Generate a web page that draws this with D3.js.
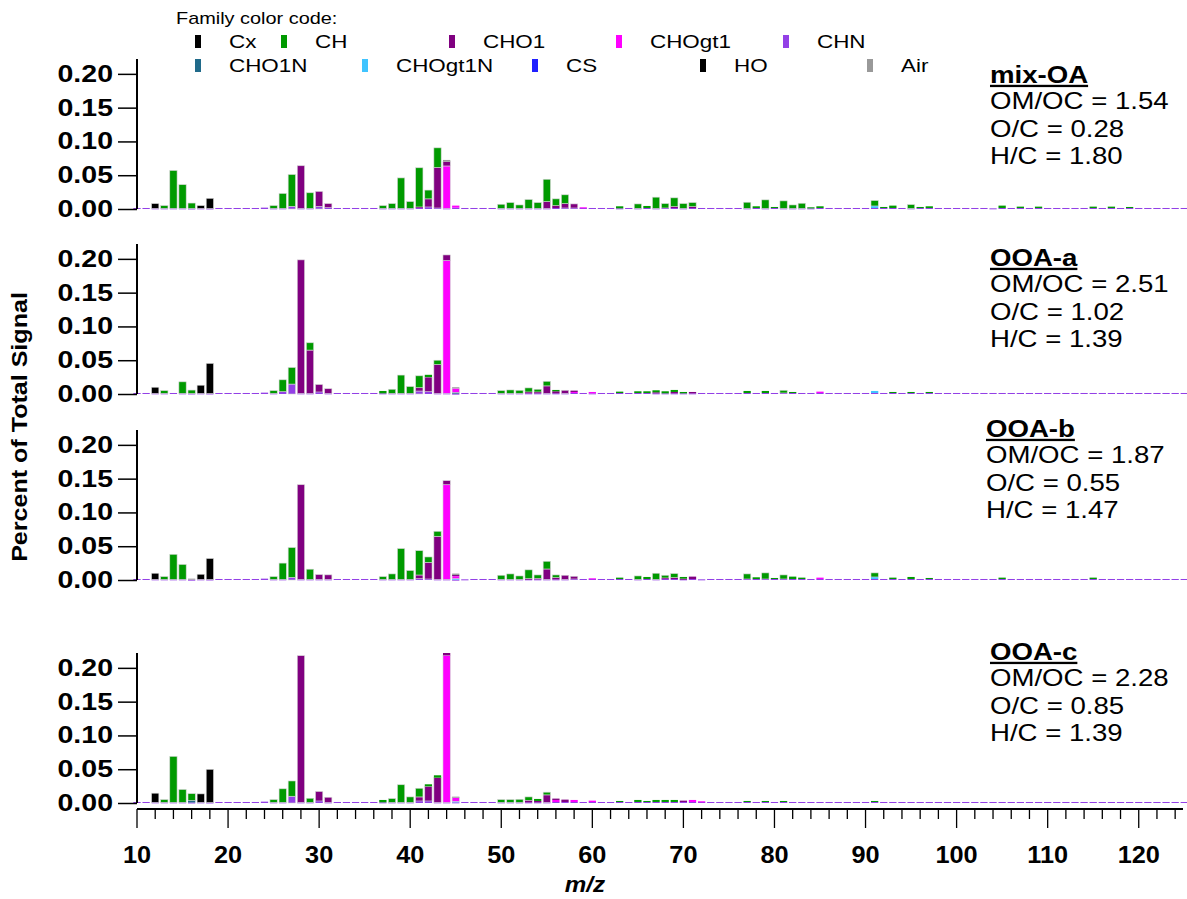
<!DOCTYPE html>
<html>
<head>
<meta charset="utf-8">
<script src="https://cdn.jsdelivr.net/npm/d3@7"></script>
<style>
  html, body { margin: 0; padding: 0; background: #fff; }
  svg { display: block; font-family: "Liberation Sans", Arial, sans-serif; }
</style>
</head>
<body>
<svg id="chart" width="1187" height="899"></svg>
<script>
// ---------- data ----------
const mzValues = d3.range(10, 126);

const familyNames  = ["Cx", "CH", "CHO1", "CHOgt1", "CHN", "CHO1N", "CHOgt1N", "CS", "HO", "Air"];
const familyColors = ["#000000", "#009a00", "#800080", "#ff00ff", "#9340e6", "#206a8a", "#40c4ff", "#2020ff", "#000000", "#999999"];
// order in which family segments are stacked, bottom to top
const stackOrder = ["CHN", "CHO1N", "CHOgt1N", "CHOgt1", "CHO1", "CH", "Cx", "HO", "CS", "Air"];

const factorNames = ["mix-OA", "OOA-a", "OOA-b", "OOA-c"];
const omocRatios = ["1.54", "2.51", "1.87", "2.28"];
const ocRatios   = ["0.28", "1.02", "0.55", "0.85"];
const hcRatios   = ["1.80", "1.39", "1.47", "1.39"];

const yTickValues = [0, 0.05, 0.10, 0.15, 0.20];
const xMajorTicks = [10, 20, 30, 40, 50, 60, 70, 80, 90, 100, 110, 120];

// mix-OA: [m/z, fraction of signal]
const mixOA_Cx = [[12, 0.007]];
const mixOA_HO = [[17, 0.004], [18, 0.015]];
const mixOA_CH = [[13, 0.004], [14, 0.056], [15, 0.035], [16, 0.008], [25, 0.004], [26, 0.022], [27, 0.047], [29, 0.023],
  [37, 0.004], [38, 0.007], [39, 0.045], [40, 0.010], [41, 0.058], [42, 0.013], [43, 0.029], [50, 0.006], [51, 0.0085],
  [52, 0.005], [53, 0.013], [54, 0.0085], [55, 0.033], [56, 0.010], [57, 0.013], [63, 0.003], [65, 0.0065], [66, 0.003],
  [67, 0.0165], [68, 0.0065], [69, 0.013], [70, 0.007], [71, 0.006], [77, 0.009], [78, 0.0025], [79, 0.0125], [80, 0.0015],
  [81, 0.011], [82, 0.005], [83, 0.0075], [84, 0.0015], [85, 0.0025], [91, 0.008], [92, 0.0015], [93, 0.0035], [95, 0.0055],
  [96, 0.0015], [97, 0.0025], [105, 0.0035], [107, 0.002], [109, 0.002], [115, 0.002], [117, 0.002], [119, 0.0015]];
const mixOA_CHO1 = [[28, 0.063], [30, 0.022], [31, 0.006], [41, 0.001], [42, 0.012], [43, 0.060], [44, 0.0064], [55, 0.010],
  [56, 0.0035], [57, 0.0065], [58, 0.006], [69, 0.002], [71, 0.002]];
const mixOA_CHOgt1 = [[44, 0.0627], [45, 0.003], [59, 0.001]];
const mixOA_CHOgt1N = [[91, 0.003]];
const mixOA_Air = [[44, 0.0025]];
const mixOA_CHN = [
  0.0015, 0.0015, 0.001, 0.001, 0.001, 0.001, 0.0008, 0.001, 0.0008, 0.0015,
  0.0015, 0.0015, 0.0015, 0.0015, 0.002, 0.001, 0.001, 0.004, 0.001, 0.001,
  0.004, 0.002, 0.0015, 0.0015, 0.0015, 0.0015, 0.0015, 0.001, 0.001, 0.001,
  0.001, 0.002, 0.003, 0.0015, 0.001, 0.002, 0.0015, 0.0015, 0.0015, 0.0015,
  0.001, 0.001, 0.001, 0.001, 0.001, 0.001, 0.0015, 0.0015, 0.0015, 0.0015,
  0.0015, 0.0015, 0.0015, 0.001, 0.0015, 0.001, 0.0015, 0.001, 0.0015, 0.0015,
  0.001, 0.0015, 0.0015, 0.0015, 0.0015, 0.0015, 0.0015, 0.001, 0.0015, 0.001,
  0.0015, 0.001, 0.001, 0.001, 0.001, 0.0015, 0.0015, 0.0015, 0.0015, 0.0015,
  0.0015, 0.0015, 0.0015, 0.0015, 0.0015, 0.001, 0.0015, 0.0015, 0.0015, 0.0015,
  0.0015, 0.0015, 0.0015, 0.0015, 0.001, 0.0015, 0.0015, 0.0015, 0.0015, 0.0015,
  0.0015, 0.0015, 0.0015, 0.0015, 0.0015, 0.0015, 0.0015, 0.0015, 0.0015, 0.0015,
  0.0015, 0.0015, 0.0015, 0.0015, 0.0015, 0.0015];

// OOA-a
const ooaA_Cx = [[12, 0.009]];
const ooaA_HO = [[17, 0.012], [18, 0.0445]];
const ooaA_CH = [[13, 0.004], [15, 0.017], [16, 0.005], [25, 0.004], [26, 0.0176], [27, 0.0245], [29, 0.0108], [37, 0.0035],
  [38, 0.006], [39, 0.027], [40, 0.010], [41, 0.0176], [42, 0.0034], [43, 0.0064], [50, 0.004], [51, 0.005], [52, 0.0045],
  [53, 0.006], [54, 0.004], [55, 0.0068], [56, 0.002], [63, 0.002], [65, 0.0025], [66, 0.0025], [67, 0.003], [68, 0.003],
  [69, 0.003], [70, 0.002], [77, 0.003], [79, 0.003], [81, 0.004], [82, 0.0015], [93, 0.0015], [95, 0.0015], [97, 0.0015]];
const ooaA_CHO1 = [[28, 0.1975], [29, 0.064], [30, 0.011], [31, 0.0068], [41, 0.0049], [42, 0.0216], [43, 0.0426], [44, 0.0083],
  [53, 0.002], [54, 0.002], [55, 0.011], [56, 0.003], [57, 0.0045], [58, 0.002], [67, 0.0015], [69, 0.002], [71, 0.002]];
const ooaA_CHOgt1 = [[44, 0.1965], [45, 0.006], [58, 0.0015], [60, 0.002], [85, 0.002]];
const ooaA_CHO1N = [[45, 0.002]];
const ooaA_CHOgt1N = [[91, 0.003]];
const ooaA_Air = [[45, 0.0015]];
const ooaA_CHN = [
  0.0015, 0.0015, 0.001, 0.001, 0.0015, 0.001, 0.0008, 0.001, 0.0008, 0.0015,
  0.0015, 0.0015, 0.0015, 0.0015, 0.002, 0.001, 0.0034, 0.0147, 0.001, 0.001,
  0.003, 0.001, 0.0015, 0.0015, 0.0015, 0.0015, 0.0015, 0.001, 0.001, 0.001,
  0.001, 0.0044, 0.0034, 0.001, 0.001, 0.0005, 0.0015, 0.0015, 0.0015, 0.0015,
  0.001, 0.001, 0.001, 0.001, 0.001, 0.001, 0.001, 0.001, 0.0015, 0.0015,
  0.001, 0.0015, 0.0015, 0.0015, 0.0015, 0.0015, 0.0015, 0.001, 0.001, 0.001,
  0.001, 0.001, 0.0015, 0.0015, 0.0015, 0.0015, 0.0015, 0.0015, 0.0015, 0.0015,
  0.0015, 0.0015, 0.0015, 0.0015, 0.0015, 0.0015, 0.0015, 0.0015, 0.0015, 0.0015,
  0.0015, 0.0015, 0.0015, 0.0015, 0.0015, 0.0015, 0.0015, 0.0015, 0.0015, 0.0015,
  0.0015, 0.0015, 0.0015, 0.0015, 0.0015, 0.0015, 0.0015, 0.0015, 0.0015, 0.0015,
  0.0015, 0.0015, 0.0015, 0.0015, 0.0015, 0.0015, 0.0015, 0.0015, 0.0015, 0.0015,
  0.0015, 0.0015, 0.0015, 0.0015, 0.0015, 0.0015];

// OOA-b
const ooaB_Cx = [[12, 0.009]];
const ooaB_HO = [[17, 0.0075], [18, 0.031]];
const ooaB_CH = [[13, 0.004], [14, 0.037], [15, 0.022], [25, 0.004], [26, 0.024], [27, 0.044], [29, 0.015], [37, 0.004],
  [38, 0.008], [39, 0.0455], [40, 0.013], [41, 0.036], [42, 0.0079], [43, 0.0074], [50, 0.006], [51, 0.008], [52, 0.005],
  [53, 0.013], [54, 0.005], [55, 0.0114], [56, 0.004], [63, 0.002], [65, 0.005], [66, 0.003], [67, 0.009], [68, 0.004],
  [69, 0.006], [70, 0.0025], [77, 0.0075], [78, 0.0025], [79, 0.009], [80, 0.0015], [81, 0.006], [82, 0.0035], [83, 0.002],
  [91, 0.006], [93, 0.002], [95, 0.003], [97, 0.0015], [105, 0.002], [115, 0.002]];
const ooaB_CHO1 = [[28, 0.14], [30, 0.007], [31, 0.0066], [41, 0.0054], [42, 0.0247], [43, 0.0637], [44, 0.006], [45, 0.0015],
  [53, 0.001], [54, 0.0015], [55, 0.0153], [56, 0.0025], [57, 0.006], [58, 0.004], [68, 0.0015], [69, 0.002], [70, 0.001], [71, 0.0035]];
const ooaB_CHOgt1 = [[44, 0.14], [45, 0.004], [60, 0.001], [85, 0.002]];
const ooaB_CHOgt1N = [[45, 0.0015], [91, 0.003]];
const ooaB_Air = [[45, 0.002], [16, 0.0015]];
const ooaB_CHN = [
  0.0015, 0.0015, 0.001, 0.001, 0.001, 0.001, 0.0005, 0.001, 0.0008, 0.0015,
  0.0015, 0.0015, 0.0015, 0.0015, 0.002, 0.001, 0.001, 0.004, 0.001, 0.001,
  0.001, 0.001, 0.0015, 0.0015, 0.0015, 0.0015, 0.0015, 0.001, 0.001, 0.001,
  0.001, 0.002, 0.0015, 0.001, 0.001, 0.0005, 0.001, 0.0015, 0.0015, 0.0015,
  0.001, 0.001, 0.001, 0.001, 0.001, 0.001, 0.001, 0.001, 0.0015, 0.0015,
  0.0015, 0.0015, 0.0015, 0.0015, 0.0015, 0.001, 0.0015, 0.001, 0.0015, 0.0015,
  0.001, 0.0015, 0.001, 0.0015, 0.0015, 0.0015, 0.0015, 0.0015, 0.0015, 0.0015,
  0.0015, 0.0015, 0.0015, 0.0015, 0.0015, 0.0015, 0.0015, 0.0015, 0.0015, 0.0015,
  0.0015, 0.0015, 0.0015, 0.0015, 0.0015, 0.0015, 0.0015, 0.0015, 0.0015, 0.0015,
  0.0015, 0.0015, 0.0015, 0.0015, 0.0015, 0.0015, 0.0015, 0.0015, 0.0015, 0.0015,
  0.0015, 0.0015, 0.0015, 0.0015, 0.0015, 0.0015, 0.0015, 0.0015, 0.0015, 0.0015,
  0.0015, 0.0015, 0.0015, 0.0015, 0.0015, 0.0015];

// OOA-c
const ooaC_Cx = [[12, 0.0135]];
const ooaC_HO = [[17, 0.0125], [18, 0.049]];
const ooaC_CH = [[13, 0.004], [14, 0.068], [15, 0.019], [16, 0.010], [25, 0.004], [26, 0.020], [27, 0.0226], [29, 0.006],
  [37, 0.0035], [38, 0.0055], [39, 0.026], [40, 0.008], [41, 0.0128], [42, 0.003], [43, 0.0035], [50, 0.004], [51, 0.004],
  [52, 0.0045], [53, 0.005], [54, 0.003], [55, 0.004], [63, 0.0015], [65, 0.003], [66, 0.0015], [67, 0.003], [68, 0.003],
  [69, 0.003], [77, 0.0015], [79, 0.0015], [81, 0.0015], [91, 0.0015]];
const ooaC_CHO1 = [[28, 0.217], [30, 0.014], [31, 0.0075], [41, 0.006], [42, 0.0217], [43, 0.0365], [44, 0.0035], [53, 0.003],
  [54, 0.002], [55, 0.011], [56, 0.002], [57, 0.0035], [70, 0.002]];
const ooaC_CHOgt1 = [[44, 0.2175], [45, 0.0054], [56, 0.003], [58, 0.003], [60, 0.002], [71, 0.003], [72, 0.001]];
const ooaC_CHO1N = [[16, 0.003]];
const ooaC_CHOgt1N = [[45, 0.0015]];
const ooaC_Air = [[45, 0.0015]];
const ooaC_CHN = [
  0.0015, 0.0015, 0.001, 0.001, 0.001, 0.001, 0.0008, 0.001, 0.0008, 0.0015,
  0.0015, 0.0015, 0.0015, 0.0015, 0.002, 0.001, 0.001, 0.010, 0.001, 0.001,
  0.003, 0.001, 0.0015, 0.0015, 0.0015, 0.0015, 0.0015, 0.001, 0.001, 0.001,
  0.001, 0.003, 0.003, 0.001, 0.001, 0.001, 0.0015, 0.0015, 0.0015, 0.0015,
  0.001, 0.001, 0.001, 0.001, 0.001, 0.001, 0.0015, 0.0015, 0.0015, 0.0015,
  0.0015, 0.0015, 0.0015, 0.0015, 0.0015, 0.0015, 0.0015, 0.0015, 0.0015, 0.0015,
  0.0015, 0.0015, 0.0015, 0.0015, 0.0015, 0.0015, 0.0015, 0.0015, 0.0015, 0.0015,
  0.0015, 0.0015, 0.0015, 0.0015, 0.0015, 0.0015, 0.0015, 0.0015, 0.0015, 0.0015,
  0.0015, 0.0015, 0.0015, 0.0015, 0.0015, 0.0015, 0.0015, 0.0015, 0.0015, 0.0015,
  0.0015, 0.0015, 0.0015, 0.0015, 0.0015, 0.0015, 0.0015, 0.0015, 0.0015, 0.0015,
  0.0015, 0.0015, 0.0015, 0.0015, 0.0015, 0.0015, 0.0015, 0.0015, 0.0015, 0.0015,
  0.0015, 0.0015, 0.0015, 0.0015, 0.0015, 0.0015];

// per-factor family spectra
const factorSpectra = [
  { Cx: mixOA_Cx, HO: mixOA_HO, CH: mixOA_CH, CHO1: mixOA_CHO1, CHOgt1: mixOA_CHOgt1, CHOgt1N: mixOA_CHOgt1N, Air: mixOA_Air, CHN: mixOA_CHN },
  { Cx: ooaA_Cx, HO: ooaA_HO, CH: ooaA_CH, CHO1: ooaA_CHO1, CHOgt1: ooaA_CHOgt1, CHO1N: ooaA_CHO1N, CHOgt1N: ooaA_CHOgt1N, Air: ooaA_Air, CHN: ooaA_CHN },
  { Cx: ooaB_Cx, HO: ooaB_HO, CH: ooaB_CH, CHO1: ooaB_CHO1, CHOgt1: ooaB_CHOgt1, CHOgt1N: ooaB_CHOgt1N, Air: ooaB_Air, CHN: ooaB_CHN },
  { Cx: ooaC_Cx, HO: ooaC_HO, CH: ooaC_CH, CHO1: ooaC_CHO1, CHOgt1: ooaC_CHOgt1, CHO1N: ooaC_CHO1N, CHOgt1N: ooaC_CHOgt1N, Air: ooaC_Air, CHN: ooaC_CHN }
];

// ---------- layout ----------
const svg = d3.select("#chart");
const axisX = 137;
const panelBottoms = [209, 394, 580, 803];
const panelHeight = 150;
const yMax = 0.222;
const xAxisY = 809;
const colorOf = d3.scaleOrdinal(familyNames, familyColors);

const x = d3.scaleLinear().domain([10, 125.3]).range([axisX, 1187]);
const barW = (x(11) - x(10)) * 0.8;

// widen text horizontally around its own x anchor
function widen(sel, s) {
  sel.each(function () {
    const t = d3.select(this);
    const x0 = +t.attr("x") || 0;
    t.attr("transform", `translate(${x0},0) scale(${s},1) translate(${-x0},0)`);
  });
}

// build wide table rows per factor
function buildRows(spec) {
  return mzValues.map((m, i) => {
    const row = { mz: m };
    familyNames.forEach(f => { row[f] = 0; });
    Object.entries(spec).forEach(([fam, vals]) => {
      if (fam === "CHN") row.CHN = vals[i];
      else vals.forEach(([mm, v]) => { if (mm === m) row[fam] += v; });
    });
    return row;
  });
}

const stack = d3.stack().keys(stackOrder);

factorSpectra.forEach((spec, p) => {
  const bottom = panelBottoms[p];
  const y = d3.scaleLinear().domain([0, yMax]).range([bottom, bottom - panelHeight]);
  const g = svg.append("g");
  const series = stack(buildRows(spec));

  g.selectAll("g.fam").data(series).join("g")
    .attr("fill", s => colorOf(s.key))
    .selectAll("rect").data(s => s.filter(d => d[1] - d[0] > 0)).join("rect")
    .attr("x", d => x(d.data.mz) - barW / 2)
    .attr("width", barW)
    .attr("y", d => y(d[1]))
    .attr("height", d => Math.max(1, y(d[0]) - y(d[1])))
    .attr("stroke", d => (y(d[0]) - y(d[1]) > 2.5 ? "#d4d4d4" : "none"))
    .attr("stroke-width", 0.6);

  // y axis
  const yAxis = d3.axisLeft(y).tickValues(yTickValues).tickFormat(d3.format(".2f")).tickSize(19).tickPadding(5);
  const ga = g.append("g").attr("transform", `translate(${axisX},0)`).call(yAxis);
  ga.select(".domain").attr("d", `M0,${y(yMax)}V${bottom}`).attr("stroke", "#000").attr("stroke-width", 2);
  ga.selectAll(".tick line").attr("stroke", "#000").attr("stroke-width", 1.5);
  ga.selectAll(".tick text").attr("font-size", 23).attr("font-weight", "bold").attr("fill", "#000")
    .attr("font-family", "Liberation Sans, Arial, sans-serif").call(widen, 1.24);

  // factor annotation
  const tx = p === 2 ? 986 : 990;
  const nameY = [83, 266, 437, 660][p];
  g.append("text").attr("x", tx).attr("y", nameY).attr("font-size", 23).attr("font-weight", "bold")
    .attr("text-decoration", "underline").text(factorNames[p]).call(widen, 1.2);
  const lines = [`OM/OC = ${omocRatios[p]}`, `O/C = ${ocRatios[p]}`, `H/C = ${hcRatios[p]}`];
  lines.forEach((t, k) => {
    g.append("text").attr("x", tx).attr("y", nameY + 27.5 * (k + 1) - 1).attr("font-size", 23).text(t).call(widen, 1.2);
  });
});

// x axis
const xAxisG = svg.append("g").attr("transform", `translate(0,${xAxisY})`);
xAxisG.append("line").attr("x1", axisX).attr("x2", x(125.3) - 4).attr("stroke", "#000").attr("stroke-width", 2);
const minorTicks = d3.range(10, 126, 2);
xAxisG.selectAll("line.minor").data(minorTicks).join("line")
  .attr("x1", d => x(d)).attr("x2", d => x(d))
  .attr("y1", 0).attr("y2", d => xMajorTicks.includes(d) ? 19 : 10)
  .attr("stroke", "#000").attr("stroke-width", 1.3);
xAxisG.selectAll("text").data(xMajorTicks).join("text")
  .attr("x", d => x(d)).attr("y", 54).attr("text-anchor", "middle")
  .attr("font-size", 23).attr("font-weight", "bold").text(d => d).call(widen, 1.1);

svg.append("text").attr("x", 585).attr("y", 892).attr("text-anchor", "middle")
  .attr("font-size", 22).attr("font-weight", "bold").attr("font-style", "italic").text("m/z").call(widen, 1.1);

svg.append("text").attr("transform", "translate(27,427) rotate(-90) scale(1.14,1)").attr("text-anchor", "middle")
  .attr("font-size", 22).attr("font-weight", "bold").text("Percent of Total Signal");

// legend
svg.append("text").attr("x", 176).attr("y", 24).attr("font-size", 17).text("Family color code:").call(widen, 1.17);
const legendPos = {
  Cx: [198, 41], CH: [284, 41], CHO1: [452, 41], CHOgt1: [619, 41], CHN: [786, 41],
  CHO1N: [198, 65], CHOgt1N: [365, 65], CS: [535, 65], HO: [703, 65], Air: [870, 65]
};
familyNames.forEach(f => {
  const [lx, ly] = legendPos[f];
  svg.append("rect").attr("x", lx - 3).attr("y", ly - 6).attr("width", 6).attr("height", 13).attr("fill", colorOf(f));
  svg.append("text").attr("x", lx + 31).attr("y", ly + 7).attr("font-size", 19).text(f).call(widen, 1.18);
});
</script>
</body>
</html>
